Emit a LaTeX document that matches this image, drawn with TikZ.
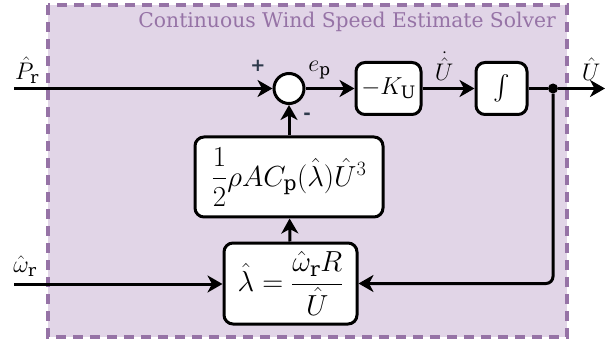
\RequirePackage{fix-cm}
\documentclass[tikz,border=0pt]{standalone}
\usepackage{amsmath}
\usepackage{fontspec}
\setmainfont{DejaVu Serif}
\newfontfamily\signfont{DejaVu Sans}
\usetikzlibrary{arrows.meta}
\definecolor{pfill}{HTML}{E1D5E7}
\definecolor{pdraw}{HTML}{9673A6}
\definecolor{signc}{HTML}{2E3A4C}
\tikzset{
  blk/.style={draw=black, fill=white, line width=3pt, rounded corners=9pt, inner sep=0pt, font=\fontsize{29}{33}\selectfont},
  sumc/.style={draw=black, fill=white, line width=3pt, circle, minimum size=30pt, inner sep=0pt},
  arr/.style={line width=3pt, -{Stealth[length=15pt,width=17pt,inset=4.5pt]}},
  lbl/.style={font=\fontsize{24}{28}\selectfont, inner sep=0pt},
  sgn/.style={font=\signfont\bfseries\fontsize{18}{20}\selectfont, text=signc, inner sep=0pt},
  jdot/.style={circle, fill=black, minimum size=10pt, inner sep=0pt}
}
\begin{document}
\begin{tikzpicture}[x=1pt,y=-1pt]
\useasboundingbox (0,0) rectangle (609,344);
\draw[pdraw, fill=pfill, line width=4pt, dash pattern=on 10pt off 7pt] (48,5) rectangle (567,337);
\node[anchor=base east, text=pdraw, font=\fontsize{20.3}{24}\selectfont, inner sep=0pt] (title) at (556,28) {Continuous Wind Speed Estimate Solver};

\coordinate (in1) at (14,88.5);
\coordinate (in2) at (14,284);
\coordinate (out) at (605,88.5);

\node[sumc] (sum) at (289,88.5) {};
\node[blk, minimum width=65pt, minimum height=52pt, font=\fontsize{24.5}{28}\selectfont] (ku) at (388.5,88.5) {$-K_\mathrm{U}$};
\node[blk, minimum width=51pt, minimum height=52pt, font=\fontsize{28}{32}\selectfont] (int) at (501.5,88.5) {$\int$};
\node[blk, minimum width=188pt, minimum height=80pt] (cp) at (289,177) {$\dfrac{1}{2}\rho A C_\mathrm{p}(\hat\lambda)\hat U^3$};
\node[blk, minimum width=133pt, minimum height=81pt] (lam) at (290.5,283.5) {$\hat\lambda=\dfrac{\hat\omega_\mathrm{r}R}{\hat U}$};
\node[jdot] (dot) at (553,88.5) {};

\node[lbl] (lp) at (27,70) {$\hat P_\mathrm{r}$};
\node[lbl] (lw) at (25,266) {$\hat\omega_\mathrm{r}$};
\node[lbl] (le) at (319.5,70) {$e_\mathrm{p}$};
\node[lbl] (lud) at (444,66) {$\dot{\hat U}$};
\node[lbl] (lu) at (591,69) {$\hat U$};
\node[sgn] (plus) at (258,66) {+};
\node[sgn] (minus) at (307,116) {-};

\draw[arr] (in1) -- (sum);
\draw[arr] (sum) -- (ku);
\draw[arr] (ku) -- (int);
\draw[line width=3pt] (int) -- (dot);
\draw[arr] (dot) -- (out);
\draw[arr, rounded corners=7pt] (dot) |- (lam.east);
\draw[arr] (in2) -- (lam.west |- in2);
\draw[arr] (lam) -- (cp);
\draw[arr] (cp) -- (sum);
\end{tikzpicture}
\end{document}
